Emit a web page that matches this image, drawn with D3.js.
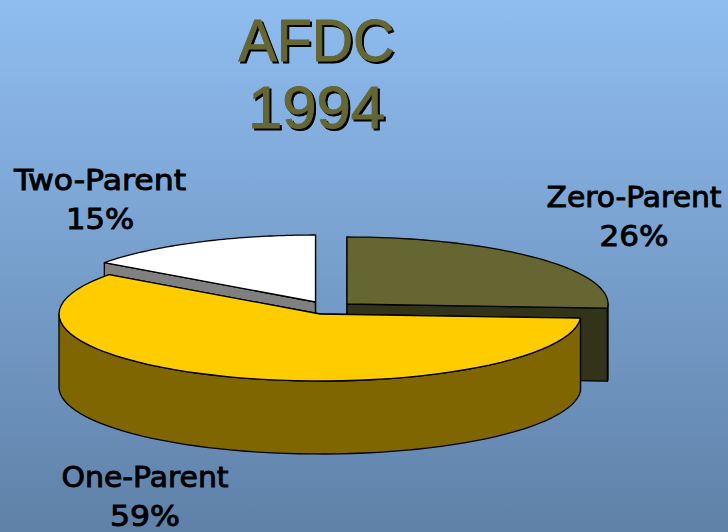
<!DOCTYPE html>
<html><head><meta charset="utf-8">
<style>html,body{margin:0;padding:0;background:#7aa5d6}svg{display:block}
.title{filter:drop-shadow(2px 2px 0 #000)}</style>
<script src="https://cdn.jsdelivr.net/npm/d3@7/dist/d3.min.js"></script>
</head><body><svg id="c" width="728" height="532"></svg>
<script>
const titleLines = ["AFDC", "1994"];
const categories = ["Zero-Parent", "One-Parent", "Two-Parent"];
const shares = [26, 59, 15];

const W = 728, H = 532;
const rx = 261, ry = 67, depth = 73;
const centers = {"Zero-Parent":[347,304],"One-Parent":[320,314],"Two-Parent":[315.5,302]};
const topFill = {"Zero-Parent":"#666633","One-Parent":"#ffcc00","Two-Parent":"#ffffff"};
const sideFill = {"Zero-Parent":"#333319","One-Parent":"#806600","Two-Parent":"#808080"};
const labelPos = {"Zero-Parent":[634,207,246],"One-Parent":[145,487,526],"Two-Parent":[100,190,229]};
const labelWidths = {"Zero-Parent":[175,69],"One-Parent":[167,70],"Two-Parent":[172,68]};

const svg = d3.select("#c");
const defs = svg.append("defs");
const g = defs.append("linearGradient").attr("id","bg").attr("x1",0).attr("x2",0).attr("y1",0).attr("y2",1);
g.append("stop").attr("offset",0).attr("stop-color","#8fbdf0");
g.append("stop").attr("offset",1).attr("stop-color","#5f81a8");
svg.append("rect").attr("width",W).attr("height",H).attr("fill","url(#bg)");

const titleWidths = [156, 137];
titleLines.forEach((t,i)=>{
  svg.append("text").attr("class","title").attr("x",316.5).attr("y",61 + i*67).attr("text-anchor","middle")
    .attr("font-family","'Liberation Sans', sans-serif").attr("font-size",60).attr("fill","#666633")
    .attr("stroke","#666633").attr("stroke-width",1)
    .attr("textLength",titleWidths[i]).attr("lengthAdjust","spacingAndGlyphs").text(t);
});

// pie angles measured clockwise from the top
const pie = d3.pie().value((d,i)=>shares[i]).sort(null).startAngle(0).endAngle(2*Math.PI);
const arcs = pie(categories);
const pt = (c,a,dy=0)=>[c[0]+rx*Math.sin(a), c[1]-ry*Math.cos(a)+dy];
const line = d3.line();
const rim = (c,a0,a1,dy=0)=>d3.range(0,61).map(i=>pt(c,a0+(a1-a0)*i/60,dy));

function drawSlice(d){
  const name = d.data, c = centers[name], a0=d.startAngle, a1=d.endAngle;
  const s = svg.append("g").attr("stroke","#000").attr("stroke-width",1.3).attr("stroke-linejoin","round");
  const side = (p)=>line(p)+"Z";
  [a0,a1].forEach(a=>{
    const e = pt(c,a);
    s.append("path").attr("fill",sideFill[name]).attr("d",side([c,e,[e[0],e[1]+depth],[c[0],c[1]+depth]]));
  });
  const w0 = Math.max(a0,Math.PI/2), w1 = Math.min(a1,3*Math.PI/2);
  if (w1>w0) s.append("path").attr("fill",sideFill[name]).attr("d",side(rim(c,w0,w1).concat(rim(c,w1,w0,depth))));
  s.append("path").attr("fill",topFill[name]).attr("d",side([c].concat(rim(c,a0,a1))));
}
["Zero-Parent","Two-Parent","One-Parent"].forEach(n=>drawSlice(arcs[categories.indexOf(n)]));

categories.forEach((n,i)=>{
  const p = labelPos[n], w = labelWidths[n];
  const t = svg.append("g").attr("font-family","'DejaVu Sans', sans-serif").attr("font-size",28)
    .attr("fill","#000").attr("stroke","#000").attr("stroke-width",0.9).attr("text-anchor","middle");
  t.append("text").attr("x",p[0]).attr("y",p[1]).attr("textLength",w[0]).attr("lengthAdjust","spacingAndGlyphs").text(n);
  t.append("text").attr("x",p[0]).attr("y",p[2]).attr("textLength",w[1]).attr("lengthAdjust","spacingAndGlyphs").text(shares[i]+"%");
});
</script></body></html>
